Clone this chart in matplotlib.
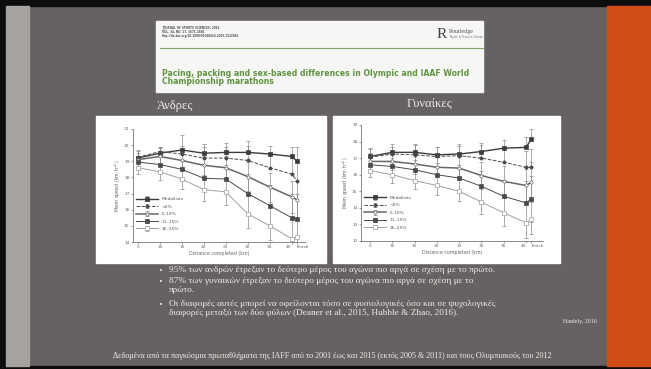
import matplotlib
matplotlib.use('Agg')
import matplotlib.pyplot as plt
from matplotlib.patches import Rectangle

W, H = 651, 369

# ---- data (mean speed, km/h) ----
distance = [5, 10, 15, 20, 25, 30, 35, 40, 41.2]
dist_ticks = [5, 10, 15, 20, 25, 30, 35, 40, 41.2]
dist_labels = ['5', '10', '15', '20', '25', '30', '35', '40', 'Finish']
groups = ['Medallists', '<5%', '6\u201310%', '11\u201315%', '16\u201325%']

men_medal = [19.2, 19.5, 19.7, 19.5, 19.55, 19.55, 19.45, 19.3, 19.0]
men_lt5 = [19.25, 19.6, 19.45, 19.2, 19.2, 19.05, 18.6, 18.2, 17.8]
men_6_10 = [19.1, 19.3, 19.05, 18.75, 18.6, 18.05, 17.4, 16.8, 16.6]
men_11_15 = [18.95, 18.8, 18.5, 17.95, 17.9, 17.0, 16.25, 15.5, 15.4]
men_16_25 = [18.6, 18.35, 17.9, 17.25, 17.1, 15.75, 15.0, 14.2, 14.3]

men_medal_err = [0.5, 0.4, 0.9, 0.6, 0.6, 0.7, 0.5, 0.6, 0.9]
men_lt5_err = [0.4, 0.3, 0.5, 0.7, 0.7, 0.9, 0.9, 1.0, 1.2]
men_6_10_err = [0.4, 0.5, 0.5, 0.6, 0.7, 0.9, 0.9, 1.0, 1.2]
men_11_15_err = [0.4, 0.5, 0.6, 0.8, 0.9, 1.2, 1.3, 1.5, 1.6]
men_16_25_err = [0.4, 0.5, 0.6, 0.7, 0.8, 0.9, 0.9, 0.9, 0.9]

women_medal = [17.1, 17.35, 17.35, 17.2, 17.25, 17.4, 17.6, 17.65, 18.15]
women_lt5 = [17.05, 17.25, 17.2, 17.1, 17.15, 17.0, 16.75, 16.45, 16.45]
women_6_10 = [16.8, 16.8, 16.65, 16.45, 16.4, 15.95, 15.6, 15.35, 15.55]
women_11_15 = [16.6, 16.5, 16.3, 16.0, 15.8, 15.3, 14.7, 14.3, 14.55]
women_16_25 = [16.25, 16.0, 15.65, 15.35, 15.0, 14.35, 13.7, 13.1, 13.3]

women_medal_err = [0.5, 0.5, 0.5, 0.5, 0.5, 0.5, 0.5, 0.6, 0.6]
women_lt5_err = [0.5, 0.4, 0.6, 0.6, 0.7, 0.8, 0.9, 1.0, 1.1]
women_6_10_err = [0.5, 0.5, 0.6, 0.6, 0.7, 0.8, 0.9, 1.0, 1.2]
women_11_15_err = [0.5, 0.5, 0.6, 0.7, 0.8, 0.9, 1.0, 1.3, 1.4]
women_16_25_err = [0.4, 0.5, 0.5, 0.6, 0.6, 0.7, 0.8, 0.9, 0.9]

# ---- slide text ----
header_meta = ['JOURNAL OF SPORTS SCIENCES, 2016',
               'VOL. 34, NO. 17, 1671\u20131681',
               'http://dx.doi.org/10.1080/02640414.2015.1132841']
paper_title = ['Pacing, packing and sex-based differences in Olympic and IAAF World',
               'Championship marathons']
bullets = [
    '95% των ανδρών έτρεξαν το δεύτερο μέρος του αγώνα πιο αργά σε σχέση με το πρώτο.',
    '87% των γυναικών έτρεξαν το δεύτερο μέρος του αγώνα πιο αργά σε σχέση με το\nπρώτο.',
    'Οι διαφορές αυτές μπορεί να οφείλονται τόσο σε φυσιολογικές όσο και σε ψυχολογικές\n'
    'διαφορές μεταξύ των δύο φύλων (Deaner et al., 2015, Hubble & Zhao, 2016).',
]
footer = ('Δεδομένα από τα παγκόσμια πρωταθλήματα της IAFF από το 2001 έως και 2015 '
          '(εκτός 2005 & 2011) και τους Ολυμπιακούς του 2012')

SERIF = ['Liberation Serif', 'DejaVu Serif']
BG = '#666261'
TXT = '#ececea'


def fx(x):
    return x / W


def fy(y):
    return 1 - y / H


def rect(x0, y0, x1, y1, color, z=0):
    fig.patches.append(Rectangle((fx(x0), fy(y1)), (x1 - x0) / W, (y1 - y0) / H,
                                 transform=fig.transFigure, color=color, zorder=z))


def ax_px(x0, y0, x1, y1):
    a = fig.add_axes([fx(x0), fy(y1), (x1 - x0) / W, (y1 - y0) / H])
    a.patch.set_alpha(0)
    return a


def speed_plot(ax, series, errs, ylim, xlim):
    styles = [
        dict(color='#3c3c3c', ls='-', lw=1.0, marker='s', mfc='#3c3c3c'),
        dict(color='#4a4a4a', ls='--', lw=0.7, marker='o', mfc='#4a4a4a'),
        dict(color='#666666', ls='-', lw=1.1, marker='o', mfc='white'),
        dict(color='#4a4a4a', ls='-', lw=0.7, marker='s', mfc='#4a4a4a'),
        dict(color='#a0a0a0', ls='-', lw=0.7, marker='s', mfc='white'),
    ]
    sides = ['up', 'up', 'both', 'both', 'down']
    for vals, err, st, side, lab in zip(series, errs, styles, sides, groups):
        if side == 'up':
            yerr = [[0] * len(err), err]
        elif side == 'down':
            yerr = [err, [0] * len(err)]
        else:
            yerr = err
        ax.errorbar(distance, vals, yerr=yerr, ecolor='#8a8a8a', elinewidth=0.5,
                    capsize=1.2, capthick=0.5, markersize=2.3, mew=0.5,
                    mec=st['color'], label=lab, **st)
    ax.set_xlim(*xlim)
    ax.set_ylim(*ylim)
    ax.set_xticks(dist_ticks)
    labels = ax.set_xticklabels(dist_labels)
    labels[-2].set_ha('right')
    labels[-1].set_ha('left')
    ax.set_yticks(range(ylim[0], ylim[1] + 1))
    for s in ['top', 'right']:
        ax.spines[s].set_visible(False)
    for s in ['left', 'bottom']:
        ax.spines[s].set_color('#777777')
        ax.spines[s].set_linewidth(0.6)
    ax.tick_params(labelsize=3.2, colors='#777777', labelcolor='#666666',
                   length=1.5, width=0.5, pad=1)
    ax.set_xlabel('Distance completed (km)', fontsize=3.4, color='#666666', labelpad=1)
    ax.set_ylabel('Mean speed (km\u00b7h$^{-1}$)', fontsize=3.4, color='#666666', labelpad=1)
    ax.legend(loc='lower left', bbox_to_anchor=(0.0, 0.07), fontsize=3.2,
              frameon=False, handlelength=5, labelspacing=0.75,
              borderaxespad=0.3, labelcolor='#555555')


fig = plt.figure(figsize=(W / 100, H / 100), dpi=100)
fig.patch.set_facecolor(BG)

# slide frame
rect(0, 0, W, 6, '#0d0d0d')
rect(0, 0, 6, H, '#0d0d0d')
rect(0, 366, W, H, '#0d0d0d')
rect(6, 6, 29, 366, '#a6a29f')
rect(607, 6, W, 366, '#d14c17')

# article header image
rect(156, 21, 483, 92, '#f6f6f4', z=1)
for i, line in enumerate(header_meta):
    fig.text(fx(162), fy(28 + i * 4), line, fontsize=2.0, color='#555555',
             va='center', fontweight='bold', zorder=3)
fig.text(fx(437), fy(34), 'R', fontsize=11, color='#444444', family=SERIF,
         va='center', zorder=3)
fig.text(fx(449), fy(31), 'Routledge', fontsize=4.3, color='#555555', family=SERIF,
         va='center', zorder=3)
fig.text(fx(449), fy(37), 'Taylor & Francis Group', fontsize=2.2, color='#777777',
         va='center', zorder=3)
fig.add_artist(plt.Line2D([fx(160), fx(483)], [fy(48), fy(48)], color='#7fa667',
                          lw=0.8, transform=fig.transFigure, zorder=3))
for i, line in enumerate(paper_title):
    fig.text(fx(162), fy(73 + i * 9), line, fontsize=5.6, color='#5f9440',
             fontweight='bold', va='center', zorder=3)

# panel titles
fig.text(fx(175), fy(106), 'Άνδρες', fontsize=9, color=TXT, family=SERIF,
         ha='center', va='center')
fig.text(fx(430), fy(104), 'Γυναίκες', fontsize=9, color=TXT, family=SERIF,
         ha='center', va='center')

# chart panels
rect(96, 116, 326, 263, 'white', z=1)
rect(333, 116, 560, 263, 'white', z=1)

ax1 = ax_px(133, 129, 305, 242)
ax1.set_zorder(5)
speed_plot(ax1, [men_medal, men_lt5, men_6_10, men_11_15, men_16_25],
           [men_medal_err, men_lt5_err, men_6_10_err, men_11_15_err, men_16_25_err],
           (14, 21), (3.9, 43.0))

ax2 = ax_px(361, 125, 543, 241)
ax2.set_zorder(5)
speed_plot(ax2, [women_medal, women_lt5, women_6_10, women_11_15, women_16_25],
           [women_medal_err, women_lt5_err, women_6_10_err, women_11_15_err, women_16_25_err],
           (12, 19), (3.0, 43.8))

# bullet points
rows = [270, 281, 304]
for y, b in zip(rows, bullets):
    fig.text(fx(159), fy(y + 1), '\u2022', fontsize=5, color=TXT, va='center')
    fig.text(fx(169), fy(y - 4), b, fontsize=6.7, color=TXT, family=SERIF,
             va='top', linespacing=1.22)
fig.text(fx(597), fy(321), 'Hanlely, 2016', fontsize=4.3, color=TXT, family=SERIF,
         ha='right', va='center')
fig.text(fx(332), fy(356), footer, fontsize=5.85, color=TXT, family=SERIF,
         ha='center', va='center')

fig.savefig('out.png', dpi=100, facecolor=fig.get_facecolor())
